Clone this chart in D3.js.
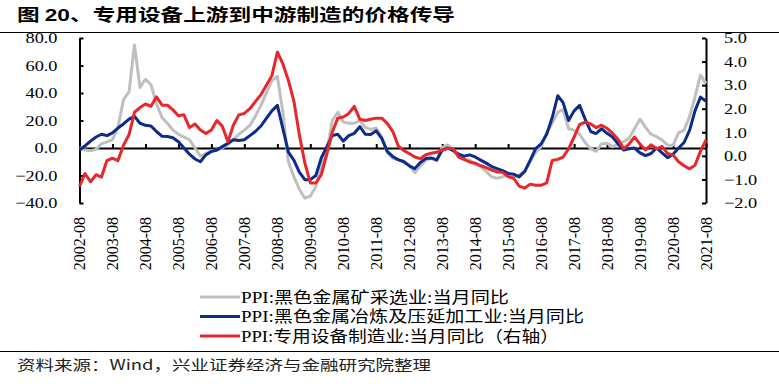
<!DOCTYPE html>
<html>
<head>
<meta charset="utf-8">
<script src="https://cdn.jsdelivr.net/npm/d3@7"></script>
<style>
  body { margin: 0; background: #fff; }
  svg { display: block; }
</style>
</head>
<body>
<svg width="779" height="384"></svg>
<script>
// x tick labels (one per year)
const tickLabels = ['2002-08','2003-08','2004-08','2005-08','2006-08','2007-08','2008-08',
  '2009-08','2010-08','2011-08','2012-08','2013-08','2014-08','2015-08','2016-08',
  '2017-08','2018-08','2019-08','2020-08','2021-08'];

// bimonthly readings from 2002-08 to 2021-08
const mining = [
  0, -1.5, -2, -1, 3, 4.5, 6, 15, 35, 41,
  75, 44, 50, 46, 32, 22, 18, 13, 10, 8,
  6, 0, -6, -4, -2, -1.5, 0, 2.5, 6, 10,
  13, 16.5, 23, 31, 40, 49, 52, 26, -10, -21,
  -30, -36.5, -35, -28, -13, -2, 20, 26, 19, 18,
  18, 20, 15, 13.5, 14.5, 8, -3, -7.5, -8.7, -9.5,
  -12.4, -18, -13, -9, -7.5, -9.4, 0.5, 2.2, -1.5, -6.5,
  -8.5, -8.7, -12, -13.5, -17, -21, -22, -21, -19.6, -21,
  -19.6, -17, -10, -3, 1, 11, 18, 26, 28, 14,
  13, 10, 4, -0.5, -2.4, 3, 3.4, 1, 3, 4.6,
  7, 14, 21, 15, 10, 8.2, 5.8, 2.2, 2, 11,
  13, 23, 37, 53, 47
];
const smelting = [
  -1.5, 1.5, 5, 8, 10, 9, 11, 14.5, 17.5, 21,
  23, 18, 16.5, 16, 12, 8.5, 8.3, 7.5, 4.5, 0,
  -4.5, -8, -10, -5, -2.5, -1.5, 1, 3.5, 6, 5.5,
  6, 9, 12, 16, 21.5, 27, 31, 14, -3, -9,
  -17.5, -23, -23, -20, -7, 1, 9, 10, 5, 9,
  10.7, 15.5, 10, 9.9, 12.5, 7, -2.5, -6.3, -8.5, -10,
  -13, -15, -10.5, -7.7, -7.2, -8.7, -1.5, 0, -2, -4.5,
  -6, -5, -6.5, -8.8, -11, -13.5, -15, -16.5, -18.5, -19,
  -21, -17, -9, -0.5, 3, 10, 22, 38, 33, 20,
  27, 31, 21, 12, 10.5, 14, 10.7, 8, 3, -1.5,
  -0.5, 0, -3.5, -5.5, -4, 0, -3.6, -7, -4.5, 0,
  4, 13, 27, 37, 34
];
const equipment = [
  -1.3, -0.75, -1.1, -0.8, -0.9, -0.2, -0.1, -0.2, 0.45, 0.9,
  1.85, 2.05, 2.2, 2.1, 2.5, 2.15, 2.15, 1.95, 1.7, 1.74,
  1.2, 1.35, 1.1, 0.95, 1.1, 1.5, 1.25, 0.6, 1.3, 1.74,
  1.8, 2.0, 2.3, 2.6, 3.0, 3.4, 4.4, 3.9, 3.2, 2.3,
  0.9, -0.3, -1.15, -1.15, -0.8, 0.1, 1.0, 1.6, 1.65, 1.8,
  2.1, 1.55, 1.5, 1.55, 1.6, 1.6, 1.38, 1.03, 0.42, 0.22,
  0.1, -0.05, -0.12, 0.05, 0.11, 0.15, 0.25, 0.32, 0.3, -0.05,
  -0.15, -0.26, -0.31, -0.42, -0.5, -0.6, -0.68, -0.7, -0.88, -0.95,
  -1.28, -1.37, -1.2, -1.25, -1.25, -1.15, -0.2, -0.15, -0.05, 0.3,
  0.8, 1.33, 1.43, 1.35, 1.2, 1.3, 1.17, 0.96, 0.7, 0.3,
  0.5, 0.8, 0.5, 0.25, 0.47, 0.3, 0.4, 0.1, 0.04, -0.25,
  -0.42, -0.55, -0.4, 0.2, 0.68
];

const leftTicks = [80, 60, 40, 20, 0, -20, -40];
const rightTicks = [5, 4, 3, 2, 1, 0, -1, -2];
const legendNames = [
  'PPI:黑色金属矿采选业:当月同比',
  'PPI:黑色金属冶炼及压延加工业:当月同比',
  'PPI:专用设备制造业:当月同比（右轴）'
];

const svg = d3.select('svg');
const serif = '"Liberation Serif", "Times New Roman", "Noto Sans CJK SC", serif';
const start = new Date(2002, 7, 1);
const dates = mining.map((_, i) => d3.timeMonth.offset(start, 2 * i));
const parseTick = d3.timeParse('%Y-%m');

const x = d3.scaleTime().domain([start, new Date(2021, 7, 1)]).range([79.5, 706]);
const yL = d3.scaleLinear().domain([-40, 80]).range([203, 38]);
const yR = d3.scaleLinear().domain([-2, 5]).range([203, 38]);

// stretch text horizontally, the source picture is a little wide
function stretch(sel, k) {
  sel.each(function () {
    const w = this.getComputedTextLength();
    d3.select(this).attr('textLength', w * k).attr('lengthAdjust', 'spacingAndGlyphs');
  });
}

// title + rules
const title = svg.append('text')
  .attr('x', 17).attr('y', 20.5)
  .style('font-family', '"Noto Sans CJK SC", sans-serif')
  .style('font-weight', 'bold').style('font-size', '17px');
title.append('tspan').text('图 ');
title.append('tspan').style('font-family', '"Liberation Sans", Arial, sans-serif').text('20');
title.append('tspan').text('、专用设备上游到中游制造的价格传导');
title.attr('textLength', 438).attr('lengthAdjust', 'spacingAndGlyphs');

svg.append('line').attr('x1', 0).attr('x2', 779).attr('y1', 32.5).attr('y2', 32.5)
  .attr('stroke', '#000').attr('stroke-width', 1.2);
svg.append('line').attr('x1', 0).attr('x2', 779).attr('y1', 351.5).attr('y2', 351.5)
  .attr('stroke', '#000').attr('stroke-width', 1.2);

// axes
const leftAxis = svg.append('g').attr('transform', 'translate(79.5,0)')
  .call(d3.axisLeft(yL).tickValues(leftTicks).tickFormat(d3.format('.1f'))
    .tickSizeInner(-4).tickSizeOuter(0).tickPadding(22));
const rightAxis = svg.append('g').attr('transform', 'translate(706,0)')
  .call(d3.axisRight(yR).tickValues(rightTicks).tickFormat(d3.format('.1f'))
    .tickSizeInner(-4).tickSizeOuter(0).tickPadding(18));
const bottomAxis = svg.append('g').attr('transform', `translate(0,${yL(0)})`)
  .call(d3.axisBottom(x).tickValues(tickLabels.map(parseTick)).tickFormat('')
    .tickSizeInner(-4).tickSizeOuter(0));

[leftAxis, rightAxis, bottomAxis].forEach(g => {
  g.selectAll('path, line').attr('stroke', '#000').attr('stroke-width', 2);
  g.selectAll('text').attr('fill', '#000')
    .style('font-family', serif).style('font-size', '15px');
});
stretch(leftAxis.selectAll('text'), 1.22);
stretch(rightAxis.selectAll('text'), 1.22);

// rotated year labels
svg.append('g').selectAll('text').data(tickLabels).join('text')
  .attr('transform', d => `translate(${x(parseTick(d))},217) rotate(-90)`)
  .attr('text-anchor', 'end').attr('dy', '0.35em')
  .style('font-family', serif).style('font-size', '16px')
  .text(d => d);

// series
const series = [
  { values: mining, y: yL, color: '#BFBFBF' },
  { values: smelting, y: yL, color: '#0C2C8C' },
  { values: equipment, y: yR, color: '#E8262B' }
];
series.forEach(s => {
  const line = d3.line().x((d, i) => x(dates[i])).y(d => s.y(d));
  svg.append('path').datum(s.values)
    .attr('fill', 'none').attr('stroke', s.color)
    .attr('stroke-width', 3).attr('stroke-linejoin', 'round')
    .attr('d', line);
});

// legend
const legendWidths = [268, 343, 318];
const legend = svg.append('g');
legendNames.forEach((name, i) => {
  const ly = 297 + i * 19.5;
  legend.append('line').attr('x1', 200).attr('x2', 240).attr('y1', ly).attr('y2', ly)
    .attr('stroke', series[i].color).attr('stroke-width', 3);
  legend.append('text').attr('x', 241).attr('y', ly).attr('dy', '0.35em')
    .style('font-family', serif).style('font-size', '16px')
    .attr('textLength', legendWidths[i]).attr('lengthAdjust', 'spacingAndGlyphs')
    .text(name);
});

// source note
svg.append('text').attr('x', 17).attr('y', 370)
  .style('font-family', '"Noto Sans CJK SC", sans-serif').style('font-size', '14px')
  .attr('fill', '#222')
  .attr('textLength', 414).attr('lengthAdjust', 'spacingAndGlyphs')
  .text('资料来源：Wind，兴业证券经济与金融研究院整理');
</script>
</body>
</html>
